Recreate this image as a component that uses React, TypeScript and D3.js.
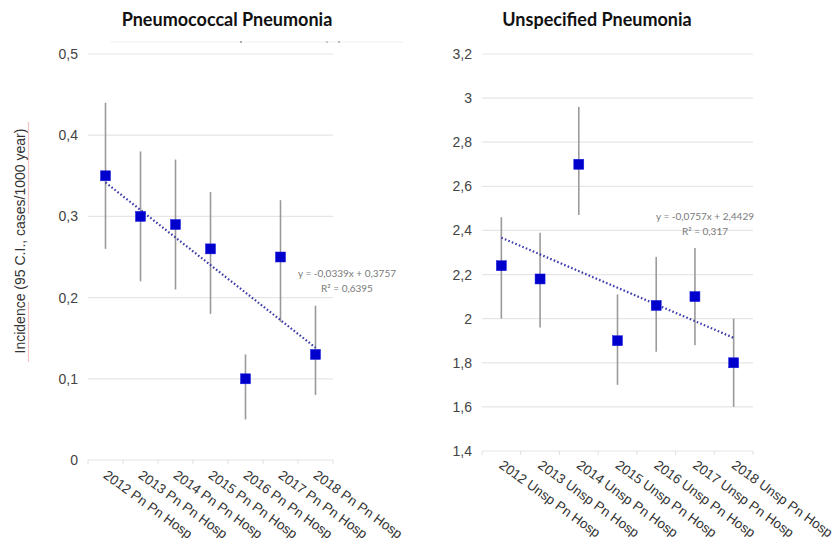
import React from "react";
import * as d3 from "d3";

const pnCategories = ["2012 Pn Pn Hosp", "2013 Pn Pn Hosp", "2014 Pn Pn Hosp", "2015 Pn Pn Hosp", "2016 Pn Pn Hosp", "2017 Pn Pn Hosp", "2018 Pn Pn Hosp"];
const pnValues = [0.35, 0.30, 0.29, 0.26, 0.10, 0.25, 0.13];
const pnLower = [0.26, 0.22, 0.21, 0.18, 0.05, 0.17, 0.08];
const pnUpper = [0.44, 0.38, 0.37, 0.33, 0.13, 0.32, 0.19];
const pnTicks = [0, 0.1, 0.2, 0.3, 0.4, 0.5];
const pnTrend = { slope: -0.0339, intercept: 0.3757, r2: "0,6395", eq: "y = -0,0339x + 0,3757" };

const unCategories = ["2012 Unsp Pn Hosp", "2013 Unsp Pn Hosp", "2014 Unsp Pn Hosp", "2015 Unsp Pn Hosp", "2016 Unsp Pn Hosp", "2017 Unsp Pn Hosp", "2018 Unsp Pn Hosp"];
const unValues = [2.24, 2.18, 2.70, 1.90, 2.06, 2.10, 1.80];
const unLower = [2.00, 1.96, 2.47, 1.70, 1.85, 1.88, 1.60];
const unUpper = [2.46, 2.39, 2.96, 2.11, 2.28, 2.32, 2.00];
const unTicks = [1.4, 1.6, 1.8, 2.0, 2.2, 2.4, 2.6, 2.8, 3.0, 3.2];
const unTrend = { slope: -0.0757, intercept: 2.4429, r2: "0,317", eq: "y = -0,0757x + 2,4429" };

const fmt = (v: number) => {
  const s = d3.format("~g")(+v.toFixed(2));
  return s.replace(".", ",");
};

type PanelProps = {
  title: string;
  titleX: number;
  cats: string[];
  vals: number[];
  lo: number[];
  hi: number[];
  ticks: number[];
  domain: [number, number];
  x0: number;
  x1: number;
  yTop: number;
  yBottom: number;
  trend: { slope: number; intercept: number; r2: string; eq: string };
  eqX: number;
  eqY: number;
  labelDy: number;
};

const Panel = (p: PanelProps) => {
  const x = d3.scaleBand<string>().domain(p.cats).range([p.x0, p.x1]).paddingInner(0).paddingOuter(0);
  const y = d3.scaleLinear().domain(p.domain).range([p.yBottom, p.yTop]);
  const cx = (c: string) => (x(c) as number) + x.bandwidth() / 2;
  const n = p.cats.length;
  const tY = (i: number) => p.trend.slope * (i + 1) + p.trend.intercept;
  const bounds = [...p.cats.map((c) => x(c) as number), p.x1];
  return (
    <g>
      <text x={p.titleX} y={26} textAnchor="middle" fontFamily="Lato, 'Open Sans', sans-serif" fontWeight="bold" fontSize={18} fill="#111">
        {p.title}
      </text>
      {p.ticks.map((t) => (
        <g key={t}>
          <line x1={p.x0} x2={p.x1} y1={y(t)} y2={y(t)} stroke="#e6e6e6" strokeWidth={1.2} />
          <text x={p.x0 - 10} y={y(t) + 5} textAnchor="end" fontFamily="'Liberation Sans', Arial, sans-serif" fontSize={14} fill="#444">
            {fmt(t)}
          </text>
        </g>
      ))}
      {bounds.map((b, i) => (
        <line key={i} x1={b} x2={b} y1={p.yBottom} y2={p.yBottom + 4} stroke="#e0e0e0" strokeWidth={1} />
      ))}
      {p.cats.map((c, i) => (
        <line key={c} x1={cx(c)} x2={cx(c)} y1={y(p.lo[i])} y2={y(p.hi[i])} stroke="#9a9a9a" strokeWidth={1.6} />
      ))}
      <line
        x1={cx(p.cats[0])}
        y1={y(tY(0))}
        x2={cx(p.cats[n - 1])}
        y2={y(tY(n - 1))}
        stroke="#3c3caa"
        strokeWidth={2.2}
        strokeDasharray="1.6 2.2"
      />
      {p.cats.map((c, i) => (
        <rect key={c} x={cx(c) - 5} y={y(p.vals[i]) - 5} width={10} height={10} fill="#0000cc" stroke="#1a1ae0" strokeWidth={0.5} />
      ))}
      <text x={p.eqX} y={p.eqY} textAnchor="middle" fontFamily="Lato, 'Open Sans', sans-serif" fontSize={10} fill="#7a7a7a">
        {p.trend.eq}
      </text>
      <text x={p.eqX} y={p.eqY + 15} textAnchor="middle" fontFamily="Lato, 'Open Sans', sans-serif" fontSize={10} fill="#7a7a7a">
        R² = {p.trend.r2}
      </text>
      {p.cats.map((c) => (
        <text
          key={c}
          transform={`translate(${cx(c) - 3},${p.yBottom + p.labelDy}) rotate(36)`}
          fontFamily="'Liberation Sans', Arial, sans-serif"
          fontSize={13.5}
          fill="#333"
        >
          {c}
        </text>
      ))}
    </g>
  );
};

export default function App() {
  return (
    <svg width={838} height={546} style={{ position: "absolute", left: 0, top: 0, background: "#fff" }}>
      <rect x={0} y={0} width={838} height={546} fill="#fff" />
      <line x1={110} x2={403} y1={42} y2={42} stroke="#f0f0f0" strokeWidth={1} />
      <circle cx={241} cy={42} r={0.8} fill="#555" />
      <circle cx={327} cy={42} r={0.7} fill="#777" />
      <circle cx={339} cy={42} r={0.7} fill="#555" />
      <Panel
        title="Pneumococcal Pneumonia"
        titleX={227}
        cats={pnCategories}
        vals={pnValues}
        lo={pnLower}
        hi={pnUpper}
        ticks={pnTicks}
        domain={[0, 0.5]}
        x0={88}
        x1={333}
        yTop={54}
        yBottom={460}
        trend={pnTrend}
        eqX={347}
        eqY={277}
        labelDy={17}
      />
      <Panel
        title="Unspecified Pneumonia"
        titleX={597}
        cats={unCategories}
        vals={unValues}
        lo={unLower}
        hi={unUpper}
        ticks={unTicks}
        domain={[1.4, 3.2]}
        x0={482}
        x1={753}
        yTop={54}
        yBottom={451}
        trend={unTrend}
        eqX={705}
        eqY={220}
        labelDy={16}
      />
      <g transform="translate(25,241) rotate(-90)">
        <text x={0} y={0} textAnchor="middle" fontFamily="'Liberation Sans', Arial, sans-serif" fontSize={14} fill="#333">
          Incidence (95 C.I., cases/1000 year)
        </text>
      </g>
      <line x1={28.5} x2={28.5} y1={302} y2={362} stroke="#f5c4c4" strokeWidth={1.2} />
      <line x1={28.5} x2={28.5} y1={122} y2={214} stroke="#f5c4c4" strokeWidth={1.2} />
    </svg>
  );
}
